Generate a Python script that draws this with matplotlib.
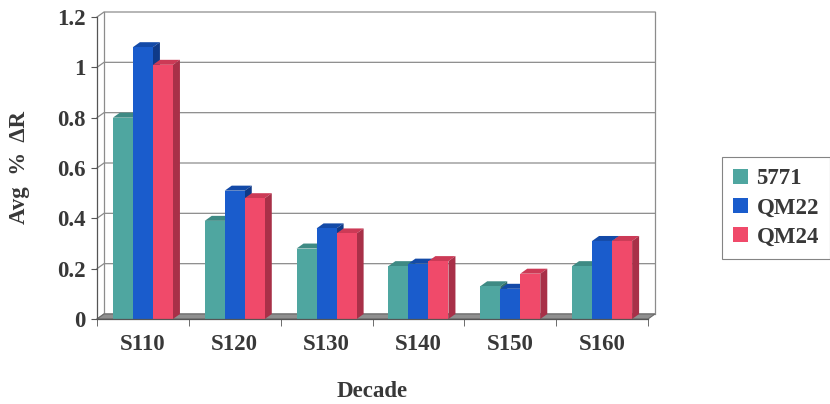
import matplotlib
matplotlib.use("Agg")
import matplotlib.pyplot as plt
from matplotlib.patches import Polygon, Patch
import numpy as np

categories = ["S110", "S120", "S130", "S140", "S150", "S160"]
series_names = ["5771", "QM22", "QM24"]
vals_5771 = [0.80, 0.39, 0.28, 0.21, 0.13, 0.21]
vals_qm22 = [1.08, 0.51, 0.36, 0.22, 0.12, 0.31]
vals_qm24 = [1.01, 0.48, 0.34, 0.23, 0.18, 0.31]
yticks = [0, 0.2, 0.4, 0.6, 0.8, 1.0, 1.2]
ytick_labels = ["0", "0.2", "0.4", "0.6", "0.8", "1", "1.2"]

front = ["#4fa6a0", "#1a5ccc", "#f04a6a"]
top_c = ["#3e8a84", "#134aa8", "#cc3a56"]
side_c = ["#336f6a", "#0f3a88", "#a83048"]

W, H = 830, 404
fig = plt.figure(figsize=(W / 100, H / 100), dpi=100)
ax_l, ax_r, ax_b, ax_t = 97, 648, 319, 17
ax = fig.add_axes([ax_l / W, (H - ax_b) / H, (ax_r - ax_l) / W, (ax_b - ax_t) / H])
ax.set_xlim(-0.5, 5.5)
ax.set_ylim(0, 1.2)

serif = "Liberation Serif"
txtc = "#383838"
fs = 16.5

# depth offsets (pixels -> data)
dx_px, dy_px = 7, 5
ox = dx_px / (ax_r - ax_l) * 6
oy = dy_px / (ax_b - ax_t) * 1.2

gc = "#8c8c8c"
# back wall gridlines
for v in yticks:
    ax.plot([-0.5, -0.5 + ox, 5.5 + ox], [v, v + oy, v + oy], color=gc, lw=0.9,
            clip_on=False, zorder=1)
ax.plot([-0.5 + ox, -0.5 + ox], [oy, 1.2 + oy], color=gc, lw=0.9, clip_on=False, zorder=1)
ax.plot([5.5 + ox, 5.5 + ox], [oy, 1.2 + oy], color=gc, lw=0.9, clip_on=False, zorder=1)

# floor
floor = Polygon([(-0.5, 0), (5.5, 0), (5.5 + ox, oy), (-0.5 + ox, oy)], closed=True,
                facecolor="#8f8f8f", edgecolor="#6a6a6a", lw=0.8, clip_on=False, zorder=2)
ax.add_patch(floor)

x = np.arange(len(categories))
bw = 0.218
all_vals = [vals_5771, vals_qm22, vals_qm24]
for i, vals in enumerate(all_vals):
    xs = x + (i - 1) * bw
    z = 3 + i * 3
    for xc, v in zip(xs, vals):
        x0, x1 = xc - bw / 2, xc + bw / 2
        topp = Polygon([(x0, v), (x0 + ox, v + oy), (x1 + ox, v + oy), (x1, v)], closed=True,
                       facecolor=top_c[i], edgecolor="none", clip_on=False, zorder=z)
        sidep = Polygon([(x1, 0), (x1 + ox, oy), (x1 + ox, v + oy), (x1, v)], closed=True,
                        facecolor=side_c[i], edgecolor="none", clip_on=False, zorder=z)
        ax.add_patch(topp)
        ax.add_patch(sidep)
    ax.bar(xs, vals, width=bw, color=front[i], edgecolor="none", zorder=z + 1)

# front edges
ax.plot([-0.5, 5.5], [0, 0], color="#555555", lw=0.9, zorder=12, clip_on=False)
for s in ["top", "right", "bottom"]:
    ax.spines[s].set_visible(False)
ax.spines["left"].set_color("#555555")
ax.spines["left"].set_linewidth(0.9)

ax.set_yticks(yticks)
ax.set_yticklabels(ytick_labels, fontfamily=serif, fontweight="bold", fontsize=fs, color=txtc)
ax.set_xticks(x)
ax.set_xticklabels(categories, fontfamily=serif, fontweight="bold", fontsize=fs, color=txtc)
ax.tick_params(axis="x", length=0, pad=11)
ax.tick_params(axis="y", length=4, color="#555555", pad=4)
ax.set_xticks(np.arange(-0.5, 6, 1), minor=True)
ax.tick_params(axis="x", which="minor", length=5, color="#555555")

ax.set_xlabel("Decade", fontfamily=serif, fontweight="bold", fontsize=fs, color=txtc)
ax.xaxis.set_label_coords(0.5, -0.205)
ax.set_ylabel("Avg  %  ΔR", fontfamily=serif, fontweight="bold", fontsize=fs, color=txtc)
ax.yaxis.set_label_coords(-0.122, 0.5)

handles = [Patch(facecolor=c, edgecolor="none") for c in front]
leg = fig.legend(handles, series_names, loc="upper left", bbox_to_anchor=(722 / W, 1 - 157 / H),
                 frameon=True, fancybox=False, edgecolor="#666666", handlelength=0.65,
                 handleheight=0.65, handletextpad=0.35, borderpad=0.5, labelspacing=0.35,
                 borderaxespad=0,
                 prop={"family": serif, "weight": "bold", "size": fs})
for t in leg.get_texts():
    t.set_color(txtc)
leg.get_frame().set_linewidth(0.8)

fig.savefig("out.png", dpi=100)
